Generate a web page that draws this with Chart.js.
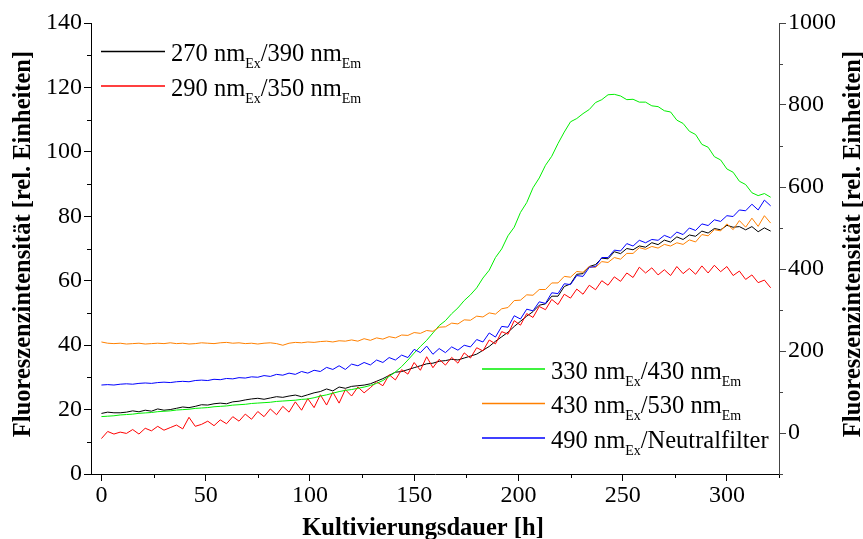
<!DOCTYPE html>
<html>
<head>
<meta charset="utf-8">
<script src="https://cdn.jsdelivr.net/npm/chart.js@4.4.0/dist/chart.umd.min.js"></script>
<style>
body { margin: 0; background: #fff; }
#wrap { width: 863px; height: 539px; }
</style>
</head>
<body>
<div id="wrap"><canvas id="chart" width="863" height="539"></canvas></div>
<script>
var hours = [
    0, 3, 6, 9, 12, 15, 18, 21, 24, 27,
    30, 33, 36, 39, 42, 45, 48, 51, 54, 57,
    60, 63, 66, 69, 72, 75, 78, 81, 84, 87,
    90, 93, 96, 99, 102, 105, 108, 111, 114, 117,
    120, 123, 126, 129, 132, 135, 138, 141, 144, 147,
    150, 153, 156, 159, 162, 165, 168, 171, 174, 177,
    180, 183, 186, 189, 192, 195, 198, 201, 204, 207,
    210, 213, 216, 219, 222, 225, 228, 231, 234, 237,
    240, 243, 246, 249, 252, 255, 258, 261, 264, 267,
    270, 273, 276, 279, 282, 285, 288, 291, 294, 297,
    300, 303, 306, 309, 312, 315, 318, 321
];
// left axis
var ex270em390 = [
    18.8, 19.2, 19, 19, 19.2, 19.6, 19.3, 19.8, 19.5, 20.2,
    19.8, 20, 20.4, 20.8, 20.6, 21, 21.5, 21.4, 21.8, 22,
    21.8, 22.4, 22.6, 23, 23.3, 23.5, 23.2, 23.6, 24, 23.8,
    24.2, 24.5, 24, 24.6, 25.2, 25.6, 26.4, 25.8, 27, 26.6,
    27.2, 27.4, 27.6, 28, 28.8, 29.6, 30.6, 31.6, 31.8, 32.4,
    33, 33.6, 34.2, 34.4, 35, 35.2, 35.6, 35.4, 36, 36.6,
    37.2, 38.4, 39.6, 41.2, 42.6, 44, 45.8, 47.4, 49, 50.4,
    52.4, 52.8, 55.2, 55.2, 58.2, 59, 62, 62.2, 64.4, 65,
    67, 66.8, 69, 68.4, 70, 69.6, 70.8, 70.4, 71.8, 71.2,
    72.6, 72, 73.6, 72.8, 74.2, 73.8, 75.4, 74.8, 76.2, 75.8,
    77.2, 76.6, 76.8, 75.8, 76.8, 75.2, 76.4, 75.4
];
var ex290em350 = [
    11, 13.2, 12.4, 13, 12.6, 13.8, 12.4, 14.2, 13.4, 14.8,
    13.6, 14.4, 15.2, 14, 17.6, 14.8, 15.4, 16.4, 15, 16.8,
    15.6, 17.8, 16.4, 18.6, 17, 19.4, 17.8, 20.2, 18.4, 21,
    19.2, 22.4, 19.8, 23.4, 20.6, 24.6, 21.4, 25.4, 22, 26.2,
    24.2, 27, 25.2, 26.8, 28.6, 27.4, 30.8, 29.2, 32.4, 31,
    34.6, 32.2, 36.4, 33, 35.6, 33.8, 36.2, 34.4, 37.6, 36,
    39.2, 38.2, 41.6, 40.4, 44.2, 43.4, 47.6, 46.2, 49.8, 48.6,
    52, 51, 54.2, 52.6, 55.8, 54.6, 57.4, 55.8, 58.6, 57.2,
    60, 58.6, 61.2, 59.8, 62.4, 61, 64.2, 62.4, 64, 61.8,
    63.4, 61.6, 64.4, 62.2, 63.8, 62, 64.6, 62.4, 64.8, 62.8,
    64.4, 61.6, 63, 60.4, 61.8, 59.4, 60.2, 57.8
];
// right axis
var ex330em430 = [
    40, 41, 42, 44, 45, 46, 48, 49, 50, 52,
    53, 54, 56, 57, 58, 60, 61, 62, 64, 65,
    66, 68, 69, 70, 72, 73, 74, 75, 77, 78,
    79, 80, 82, 83, 86, 90, 93, 97, 101, 104,
    106, 109, 112, 116, 121, 128, 138, 149, 162, 178,
    195, 211, 226, 244, 262, 274, 291, 305, 323, 337,
    354, 378, 397, 428, 449, 481, 502, 538, 562, 598,
    622, 653, 675, 706, 734, 759, 767, 779, 789, 806,
    813, 825, 826, 822, 813, 814, 807, 807, 798, 796,
    786, 783, 763, 755, 736, 728, 704, 697, 674, 666,
    644, 636, 614, 606, 586, 579, 584, 575
];
var ex430em530 = [
    222, 219, 218, 219, 217, 218, 219, 217, 218, 219,
    218, 220, 218, 219, 217, 218, 220, 219, 218, 220,
    221, 219, 220, 218, 219, 217, 219, 220, 218, 214,
    219, 221, 220, 222, 221, 223, 224, 222, 225, 224,
    227, 224, 230, 226, 232, 229, 235, 232, 239, 238,
    245, 243, 250, 248, 258, 259, 268, 266, 276, 275,
    285, 283, 293, 290, 303, 306, 323, 324, 337, 336,
    350, 350, 366, 366, 382, 380, 394, 392, 406, 404,
    418, 416, 428, 424, 438, 438, 452, 448, 455, 451,
    460, 456, 464, 460, 471, 466, 484, 481, 496, 493,
    510, 496, 518, 502, 524, 504, 530, 512
];
var ex490neutral = [
    117, 118, 117, 119, 120, 119, 121, 122, 121, 123,
    124, 123, 125, 126, 125, 128, 129, 128, 131, 130,
    133, 132, 135, 134, 137, 136, 140, 138, 143, 141,
    146, 143, 150, 146, 153, 150, 160, 155, 164, 155,
    168, 164, 172, 166, 178, 172, 184, 178, 190, 184,
    204, 196, 212, 192, 206, 196, 210, 202, 214, 210,
    228, 222, 244, 234, 260, 258, 286, 278, 302, 298,
    320, 316, 342, 340, 364, 362, 384, 382, 404, 406,
    428, 428, 446, 444, 462, 456, 470, 464, 472, 470,
    482, 476, 490, 484, 500, 494, 510, 506, 520, 516,
    530, 528, 544, 542, 558, 544, 568, 554
];

var xTicks = [0, 50, 100, 150, 200, 250, 300];
var xMinor = [25, 75, 125, 175, 225, 275, 325];
var leftTicks = [0, 20, 40, 60, 80, 100, 120, 140];
var leftMinor = [10, 30, 50, 70, 90, 110, 130];
var rightTicks = [0, 200, 400, 600, 800, 1000];
var rightMinor = [-100, 100, 300, 500, 700, 900];

var legendLeft = [
    { color: "#000000", parts: ["270 nm", "Ex", "/390 nm", "Em"] },
    { color: "#ff0000", parts: ["290 nm", "Ex", "/350 nm", "Em"] }
];
var legendRight = [
    { color: "#00ee00", parts: ["330 nm", "Ex", "/430 nm", "Em"] },
    { color: "#ff8000", parts: ["430 nm", "Ex", "/530 nm", "Em"] },
    { color: "#0000ff", parts: ["490 nm", "Ex", "/Neutralfilter"] }
];
var yTitle = "Fluoreszenzintensität [rel. Einheiten]";
var xTitle = "Kultivierungsdauer [h]";

var serif = "'Liberation Serif', 'Times New Roman', serif";

function points(values) {
    return hours.map(function(h, i) { return { x: h, y: values[i] }; });
}

function line(label, values, color, axis) {
    return {
        label: label,
        data: points(values),
        yAxisID: axis,
        borderColor: color,
        backgroundColor: color,
        borderWidth: 1,
        pointRadius: 0,
        tension: 0,
        fill: false
    };
}

function fixedTicks(list) {
    return function(scale) {
        scale.ticks = list.map(function(v) { return { value: v }; });
    };
}

function plainLabel(value) {
    return String(value);
}

function drawRich(ctx, parts, x, y) {
    for (var i = 0; i < parts.length; i++) {
        var sub = i % 2 === 1;
        ctx.font = (sub ? "14px " : "24.5px ") + serif;
        ctx.fillText(parts[i], x, sub ? y + 7 : y);
        x += ctx.measureText(parts[i]).width;
    }
}

function legendLine(ctx, color, x0, x1, y) {
    ctx.strokeStyle = color;
    ctx.lineWidth = 1.5;
    ctx.beginPath();
    ctx.moveTo(x0, y);
    ctx.lineTo(x1, y);
    ctx.stroke();
}

var decor = {
    id: "decor",
    afterDraw: function(chart) {
        var ctx = chart.ctx;
        var area = chart.chartArea;
        var sx = chart.scales.x, sy = chart.scales.y, sy2 = chart.scales.y2;
        ctx.save();
        ctx.lineWidth = 1;
        ctx.strokeStyle = "#000";
        ctx.beginPath();
        xMinor.forEach(function(v) {
            var px = Math.round(sx.getPixelForValue(v)) + 0.5;
            ctx.moveTo(px, area.bottom);
            ctx.lineTo(px, area.bottom + 4);
        });
        leftMinor.forEach(function(v) {
            var py = Math.round(sy.getPixelForValue(v)) + 0.5;
            ctx.moveTo(area.left, py);
            ctx.lineTo(area.left - 4, py);
        });
        ctx.stroke();
        ctx.strokeStyle = "#444";
        ctx.beginPath();
        rightMinor.forEach(function(v) {
            var py = Math.round(sy2.getPixelForValue(v)) + 0.5;
            ctx.moveTo(area.right, py);
            ctx.lineTo(area.right + 4, py);
        });
        ctx.stroke();

        ctx.fillStyle = "#000";
        ctx.textBaseline = "alphabetic";
        ctx.textAlign = "left";
        legendLeft.forEach(function(item, i) {
            var y = 51.5 + i * 34.5;
            legendLine(ctx, item.color, 101, 165, y);
            drawRich(ctx, item.parts, 171, y + 9.5);
        });
        legendRight.forEach(function(item, i) {
            var y = 369 + i * 34.5;
            legendLine(ctx, item.color, 482, 545, y);
            drawRich(ctx, item.parts, 551, y + 9.5);
        });

        ctx.font = "bold 24.5px " + serif;
        ctx.textAlign = "center";
        ctx.fillText(xTitle, 423, 535);
        [30, 860].forEach(function(x) {
            ctx.save();
            ctx.translate(x, 244);
            ctx.rotate(-Math.PI / 2);
            ctx.fillText(yTitle, 0, 0);
            ctx.restore();
        });
        ctx.restore();
    }
};

var tickFont = { family: serif, size: 24 };

var chart = new Chart(document.getElementById("chart"), {
    type: "line",
    data: {
        datasets: [
            line("490 nm Ex/Neutralfilter", ex490neutral, "#0000ff", "y2"),
            line("430 nm Ex/530 nm Em", ex430em530, "#ff8000", "y2"),
            line("330 nm Ex/430 nm Em", ex330em430, "#00ee00", "y2"),
            line("290 nm Ex/350 nm Em", ex290em350, "#ff0000", "y"),
            line("270 nm Ex/390 nm Em", ex270em390, "#000000", "y")
        ]
    },
    options: {
        responsive: false,
        animation: false,
        devicePixelRatio: 1,
        layout: { padding: { top: 23, left: 0, right: 0, bottom: 0 } },
        plugins: {
            legend: { display: false },
            tooltip: { enabled: false }
        },
        scales: {
            x: {
                type: "linear",
                position: "bottom",
                min: -5,
                max: 325,
                afterBuildTicks: fixedTicks(xTicks),
                afterFit: function(s) { s.height = 65; },
                grid: { drawOnChartArea: false, tickLength: 7, color: "#000" },
                border: { color: "#000" },
                ticks: { font: tickFont, color: "#000", padding: 0, maxRotation: 0, autoSkip: false, callback: plainLabel }
            },
            y: {
                position: "left",
                min: 0,
                max: 140,
                afterBuildTicks: fixedTicks(leftTicks),
                afterFit: function(s) { s.width = 91; },
                grid: { drawOnChartArea: false, tickLength: 7, color: "#000" },
                border: { color: "#000" },
                ticks: { font: tickFont, color: "#000", padding: 2, autoSkip: false, callback: plainLabel }
            },
            y2: {
                position: "right",
                min: -100,
                max: 1000,
                afterBuildTicks: fixedTicks(rightTicks),
                afterFit: function(s) { s.width = 84; },
                grid: { drawOnChartArea: false, tickLength: 7, color: "#444" },
                border: { color: "#444" },
                ticks: { font: tickFont, color: "#000", padding: 2, autoSkip: false, callback: plainLabel }
            }
        }
    },
    plugins: [decor]
});
</script>
</body>
</html>
